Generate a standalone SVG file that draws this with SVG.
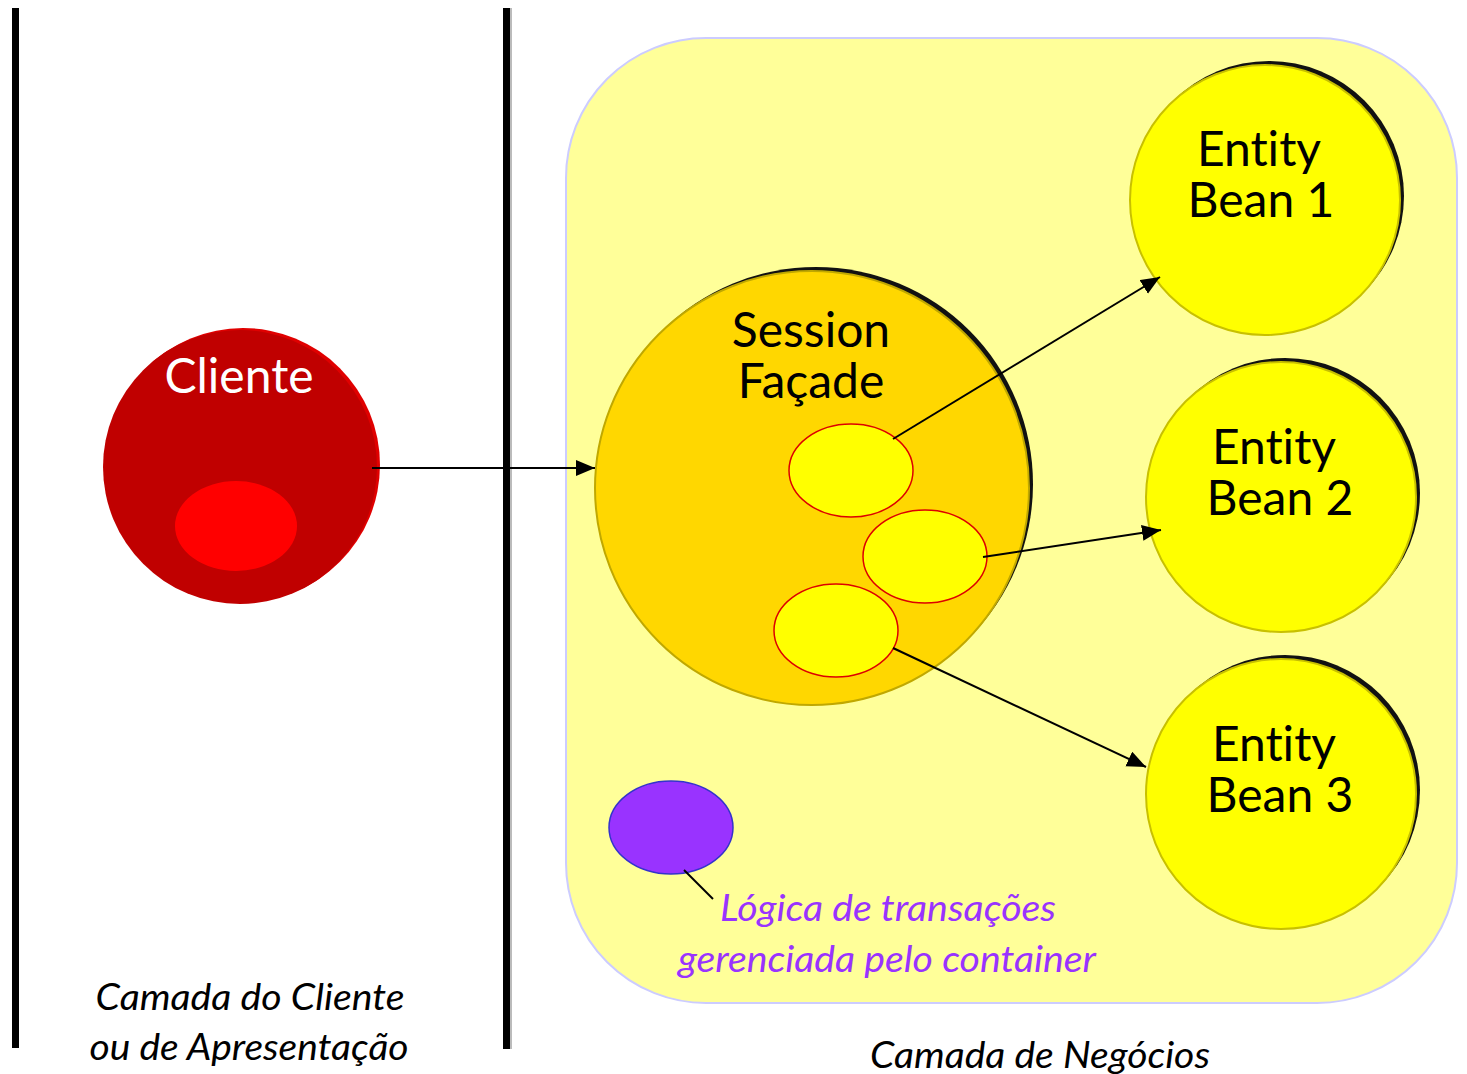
<svg xmlns="http://www.w3.org/2000/svg" width="1467" height="1074" viewBox="0 0 1467 1074">
<defs>
<style>
text{font-variant-ligatures:none;font-feature-settings:"liga" 0,"clig" 0}
.lbl{font-family:Lato,"Open Sans","Liberation Sans",sans-serif;font-size:48px;fill:#000;text-anchor:middle}
.cap{font-family:Lato,"Open Sans","Liberation Sans",sans-serif;font-style:italic;font-size:36px;fill:#000;text-anchor:middle}
.note{font-family:Lato,"Open Sans","Liberation Sans",sans-serif;font-style:italic;font-size:36px;fill:#9933FF;text-anchor:middle}
.shadow{fill:#111}
.bean{fill:#FFFF00;stroke:#C8C000;stroke-width:2}
.inner{fill:#FFFF00;stroke:#DD0000;stroke-width:1.5}
.conn{stroke:#000;stroke-width:2;fill:none}
</style>
<marker id="ah" markerUnits="userSpaceOnUse" markerWidth="20" markerHeight="18" refX="19" refY="8" orient="auto">
<path d="M0,0 L19,8 L0,16 z" fill="#000"/>
</marker>
</defs>
<rect width="1467" height="1074" fill="#fff"/>
<g id="tiers">
<rect x="12" y="8" width="7" height="1040" fill="#000"/>
<rect x="510" y="8" width="2" height="1041" fill="#bbb"/>
<rect x="503" y="8" width="7" height="1041" fill="#000"/>
<rect x="566" y="38" width="891" height="965" rx="140" ry="140" fill="#FFFF99" stroke="#CCCCFF" stroke-width="2"/>
</g>
<g id="cliente">
<circle cx="243" cy="465" r="137" fill="#E00000"/>
<circle cx="240" cy="467" r="137" fill="#C00000"/>
<ellipse cx="236" cy="526" rx="61" ry="45" fill="#FF0000"/>
<text class="lbl" x="239" y="393" style="fill:#fff">Cliente</text>
</g>
<g id="session-facade">
<circle cx="816" cy="484" r="217" class="shadow"/>
<circle cx="812" cy="488" r="217" fill="#FFD700" stroke="#C0A800" stroke-width="2"/>
<text class="lbl"><tspan x="811" y="347">Session</tspan><tspan x="811" y="398">Façade</tspan></text>
<ellipse class="inner" cx="851" cy="470.5" rx="62" ry="46.5"/>
<ellipse class="inner" cx="925" cy="556.5" rx="62" ry="46.5"/>
<ellipse class="inner" cx="836" cy="630.5" rx="62" ry="46.5"/>
</g>
<g id="entity-bean-1">
<circle cx="1269" cy="196" r="135" class="shadow"/>
<circle cx="1265" cy="200" r="135" class="bean"/>
<text class="lbl"><tspan x="1259" y="166">Entity</tspan><tspan x="1261" y="217">Bean 1</tspan></text>
</g>
<g id="entity-bean-2">
<circle cx="1285" cy="493" r="135" class="shadow"/>
<circle cx="1281" cy="497" r="135" class="bean"/>
<text class="lbl"><tspan x="1274" y="464">Entity</tspan><tspan x="1280" y="515">Bean 2</tspan></text>
</g>
<g id="entity-bean-3">
<circle cx="1285" cy="790" r="135" class="shadow"/>
<circle cx="1281" cy="794" r="135" class="bean"/>
<text class="lbl"><tspan x="1274" y="761">Entity</tspan><tspan x="1280" y="812">Bean 3</tspan></text>
</g>
<g id="transacoes">
<ellipse cx="671" cy="827.5" rx="62" ry="46.5" fill="#9933FF" stroke="#3333CC" stroke-width="1.5"/>
<text class="note" x="888" y="921" textLength="336" lengthAdjust="spacingAndGlyphs">Lógica de transações</text>
<text class="note" x="887" y="972" textLength="418" lengthAdjust="spacingAndGlyphs">gerenciada pelo container</text>
</g>
<g id="labels">
<text class="cap" x="250" y="1010" textLength="309" lengthAdjust="spacingAndGlyphs">Camada do Cliente</text>
<text class="cap" x="249" y="1060" textLength="319" lengthAdjust="spacingAndGlyphs">ou de Apresentação</text>
<text class="cap" x="1040" y="1068" textLength="340" lengthAdjust="spacingAndGlyphs">Camada de Negócios</text>
</g>
<g id="connectors">
<line class="conn" x1="372" y1="468" x2="595" y2="468" marker-end="url(#ah)"/>
<line class="conn" x1="893" y1="439" x2="1160" y2="277" marker-end="url(#ah)"/>
<line class="conn" x1="983" y1="557" x2="1161" y2="530" marker-end="url(#ah)"/>
<line class="conn" x1="893" y1="648" x2="1146" y2="767" marker-end="url(#ah)"/>
<line class="conn" x1="684" y1="870" x2="713" y2="899"/>
</g>
</svg>
